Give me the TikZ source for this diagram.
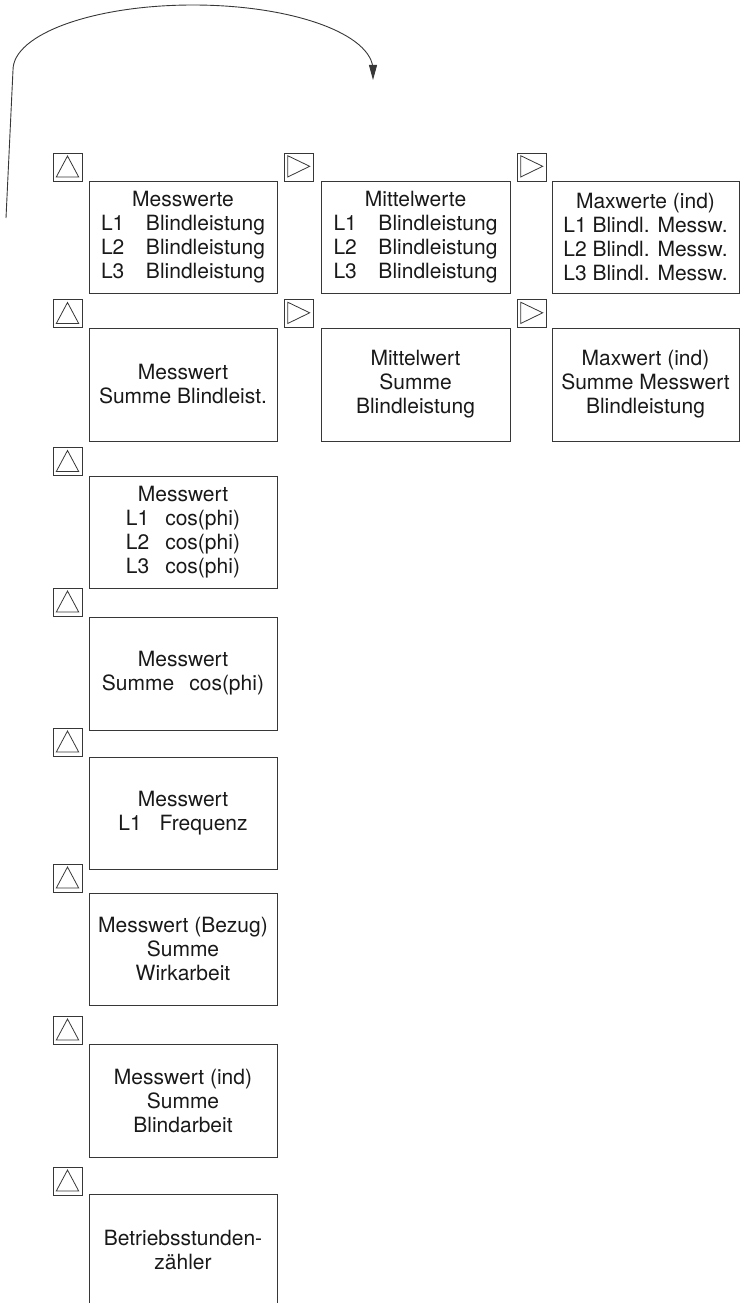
\documentclass[tikz,border=0pt]{standalone}
\usepackage{fontspec}
\setmainfont{TeX Gyre Heros}
\usetikzlibrary{arrows.meta}
\definecolor{ink}{RGB}{25,25,25}
\definecolor{edge}{RGB}{55,55,55}
\tikzset{
  box/.style={draw=edge, line width=0.9pt, text=ink, align=center,
    font=\fontsize{21}{24}\selectfont, inner sep=0pt,
    minimum width=188pt, minimum height=112pt},
  icon/.style={draw=edge, line width=0.9pt, inner sep=0pt,
    minimum width=29pt, minimum height=28pt},
  upicon/.style={icon, path picture={
    \draw[edge, line width=0.8pt]
      ([shift={(3.3pt,4pt)}]path picture bounding box.south west) --
      ([shift={(-3.3pt,4pt)}]path picture bounding box.south east) --
      ([shift={(0pt,-3pt)}]path picture bounding box.north) -- cycle;}},
  righticon/.style={icon, path picture={
    \draw[edge, line width=0.8pt]
      ([shift={(3.7pt,-2.7pt)}]path picture bounding box.north west) --
      ([shift={(3.7pt,4pt)}]path picture bounding box.south west) --
      ([shift={(-3.3pt,0.7pt)}]path picture bounding box.east) -- cycle;}},
  loop/.style={draw=edge, line width=0.9pt}
}
\begin{document}
\begin{tikzpicture}[x=1pt,y=-1pt]
\useasboundingbox (0,0) rectangle (740,1303);
\clip (0,0) rectangle (740,1303);

% column 1
\node[upicon] (i1) at (67.5,167) {};
\node[box] (b1) at (183,237) {Messwerte\\L1\hspace{21.6pt}Blindleistung\\L2\hspace{21.6pt}Blindleistung\\L3\hspace{21.6pt}Blindleistung};
\node[upicon] (i2) at (67.5,313.5) {};
\node[box, minimum height=113pt] (b2) at (183,384.5) {Messwert\\Summe Blindleist.};
\node[upicon] (i3) at (67.5,461.5) {};
\node[box] (b3) at (183,532) {Messwert\\L1\hspace{16pt}cos(phi)\\L2\hspace{16pt}cos(phi)\\L3\hspace{16pt}cos(phi)};
\node[upicon] (i4) at (67.5,602) {};
\node[box, minimum height=113pt] (b4) at (183,673.5) {Messwert\\Summe\hspace{15pt}cos(phi)};
\node[upicon] (i5) at (67.5,742) {};
\node[box] (b5) at (183,813) {Messwert\\L1\hspace{18pt}Frequenz};
\node[upicon] (i6) at (67.5,878) {};
\node[box] (b6) at (183,949) {Messwert (Bezug)\\Summe\\Wirkarbeit};
\node[upicon] (i7) at (67.5,1030) {};
\node[box, minimum height=113pt] (b7) at (183,1100.5) {Messwert (ind)\\Summe\\Blindarbeit};
\node[upicon] (i8) at (67.5,1181) {};
\node[box] (b8) at (183,1250) {Betriebsstunden-\\zähler};

% column 2
\node[righticon] (j1) at (298.5,167) {};
\node[box, minimum width=189pt] (c1) at (415.5,237) {Mittelwerte\\L1\hspace{21.6pt}Blindleistung\\L2\hspace{21.6pt}Blindleistung\\L3\hspace{21.6pt}Blindleistung};
\node[righticon] (j2) at (298.5,313.5) {};
\node[box, minimum width=189pt, minimum height=113pt] (c2) at (415.5,384.5) {Mittelwert\\Summe\\Blindleistung};

% column 3
\node[righticon] (k1) at (531.5,167) {};
\node[box, minimum width=187pt] (d1) at (645.5,237) {Maxwerte (ind)\\L1 Blindl. Messw.\\L2 Blindl. Messw.\\L3 Blindl. Messw.};
\node[righticon] (k2) at (531.5,313.5) {};
\node[box, minimum width=187pt, minimum height=113pt] (d2) at (645.5,384.5) {Maxwert (ind)\\Summe Messwert\\Blindleistung};

% return arrow
\coordinate (s) at (6,218);
\coordinate (a) at (13,70);
\coordinate (t) at (373,80);
\draw[loop, -{Triangle[length=15pt,width=8pt]}]
  (s) -- (a) arc[start angle=180, end angle=0, x radius=180pt, y radius=65pt] -- (t);
\end{tikzpicture}
\end{document}
